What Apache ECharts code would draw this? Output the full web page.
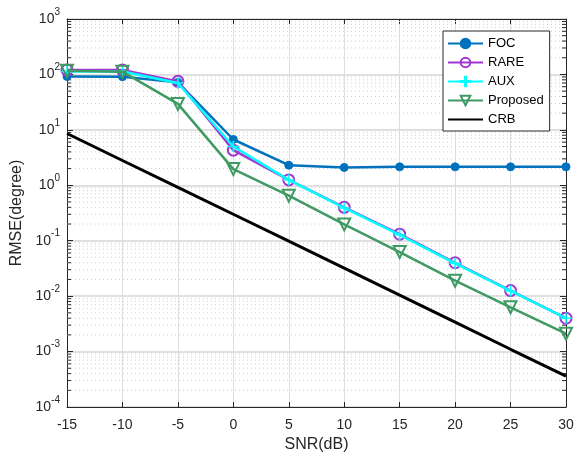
<!DOCTYPE html>
<html>
<head>
<meta charset="utf-8">
<script src="https://cdn.jsdelivr.net/npm/echarts@6/dist/echarts.min.js"></script>
<style>
html,body{margin:0;padding:0;background:#fff;}
#chart{width:579px;height:458px;}
</style>
</head>
<body>
<div id="chart"></div>
<script>
const snr = [-15, -10, -5, 0, 5, 10, 15, 20, 25, 30];
const foc = [92, 91, 72, 6.7, 2.3, 2.1, 2.15, 2.15, 2.15, 2.15];
const rare = [120, 120, 75, 4.3, 1.25, 0.40, 0.131, 0.040, 0.0126, 0.0040];
const aux = [113, 113, 70, 5.0, 1.25, 0.39, 0.128, 0.039, 0.0124, 0.0040];
const proposed = [116, 112, 29.4, 1.96, 0.65, 0.197, 0.0625, 0.019, 0.0063, 0.0021];
const crb = [8.6, 2.8, 0.92, 0.30, 0.098, 0.032, 0.0104, 0.0034, 0.0011, 0.00036];
const xTicks = [-15, -10, -5, 0, 5, 10, 15, 20, 25, 30];
const yTickExponents = [-4, -3, -2, -1, 0, 1, 2, 3];

const FONT = 'Liberation Sans, Arial, Helvetica, sans-serif';
const AXC = '#262626';

// minor (log) grid values: 2..9 x 10^k
const minorVals = [];
for (let k = -4; k < 3; k++) {
  for (let m = 2; m <= 9; m++) minorVals.push(m * Math.pow(10, k));
}

function pair(ys) { return snr.map((x, i) => [x, ys[i]]); }

const chart = echarts.init(document.getElementById('chart'), null, {renderer: 'canvas'});

const plusPath = 'path://M-1,-10 L1,-10 L1,-1 L10,-1 L10,1 L1,1 L1,10 L-1,10 L-1,1 L-10,1 L-10,-1 L-1,-1 Z';

const option = {
  animation: false,
  backgroundColor: '#ffffff',
  textStyle: {fontFamily: FONT},
  grid: {left: 67, right: 13, top: 15, bottom: 50, containLabel: false},
  legend: {
    left: 443, top: 31,
    orient: 'vertical',
    backgroundColor: '#ffffff',
    borderColor: AXC, borderWidth: 1,
    padding: [6, 6, 5, 4],
    itemGap: 6, itemWidth: 35, itemHeight: 12,
    textStyle: {fontSize: 13, color: '#000', fontFamily: FONT},
    data: ['FOC', 'RARE', 'AUX', 'Proposed', 'CRB']
  },
  xAxis: [{
    type: 'value', min: -15, max: 30, interval: 5,
    name: 'SNR(dB)', nameLocation: 'middle', nameGap: 30,
    nameTextStyle: {fontSize: 16, color: AXC, fontFamily: FONT},
    axisLine: {show: true, onZero: false, lineStyle: {color: AXC, width: 1}},
    axisTick: {show: true, inside: true, length: 5, lineStyle: {color: AXC}},
    axisLabel: {fontSize: 14, color: AXC, margin: 11, fontFamily: FONT,
      formatter: v => xTicks.includes(v) ? String(v) : ''},
    splitLine: {show: true, lineStyle: {color: '#dedede', width: 1}}
  }, {
    type: 'value', min: -15, max: 30, interval: 5, position: 'top',
    axisLine: {show: true, onZero: false, lineStyle: {color: AXC, width: 1}},
    axisTick: {show: true, inside: true, length: 5, lineStyle: {color: AXC}},
    axisLabel: {show: false}, splitLine: {show: false}
  }],
  yAxis: [{
    type: 'log', logBase: 10, min: 1e-4, max: 1e3, interval: 1,
    name: 'RMSE(degree)', nameLocation: 'middle', nameGap: 40,
    nameTextStyle: {fontSize: 16, color: AXC, fontFamily: FONT},
    axisLine: {show: true, onZero: false, lineStyle: {color: AXC, width: 1}},
    axisTick: {show: true, inside: true, length: 6, lineStyle: {color: AXC}},
    axisLabel: {
      color: AXC, margin: 7, fontFamily: FONT,
      formatter: v => {
        const e = Math.round(Math.log10(v));
        return yTickExponents.includes(e) ? '{b|10}{s|' + e + '}' : '';
      },
      rich: {
        b: {fontSize: 14, lineHeight: 14, color: AXC, fontFamily: FONT, verticalAlign: 'bottom', padding: [12, 0, 0, 0]},
        s: {fontSize: 10, lineHeight: 10, color: AXC, fontFamily: FONT, verticalAlign: 'bottom', padding: [0, 0, 9, 0]}
      }
    },
    splitLine: {show: true, lineStyle: {color: '#d6d6d6', width: 1.5}}
  }, {
    type: 'log', logBase: 10, min: 1e-4, max: 1e3, interval: 1, position: 'right',
    axisLine: {show: true, onZero: false, lineStyle: {color: AXC, width: 1}},
    axisTick: {show: true, inside: true, length: 6, lineStyle: {color: AXC}},
    axisLabel: {show: false}, splitLine: {show: false}
  }],
  series: [
    {
      name: 'minorGrid', type: 'custom', silent: true, z: 1,
      xAxisIndex: 0, yAxisIndex: 0,
      data: minorVals.map(v => [v]),
      encode: {y: 0},
      renderItem: function (params, api) {
        const v = api.value(0);
        const p1 = api.coord([-15, v]);
        const p2 = api.coord([30, v]);
        return {type: 'group', children: [
          {type: 'line', shape: {x1: p1[0], y1: p1[1], x2: p2[0], y2: p2[1]},
           style: {stroke: '#cfcfcf', lineWidth: 1, lineDash: [1, 3]}},
          {type: 'line', shape: {x1: p1[0], y1: p1[1], x2: p1[0] + 4, y2: p1[1]},
           style: {stroke: AXC, lineWidth: 1}},
          {type: 'line', shape: {x1: p2[0] - 4, y1: p2[1], x2: p2[0], y2: p2[1]},
           style: {stroke: AXC, lineWidth: 1}}
        ]};
      }
    },
    {
      name: 'FOC', type: 'line', data: pair(foc), z: 3,
      symbol: 'circle', symbolSize: 8,
      lineStyle: {color: '#0072BD', width: 2.5},
      itemStyle: {color: '#0072BD', borderColor: '#0072BD', borderWidth: 1}
    },
    {
      name: 'RARE', type: 'line', data: pair(rare), z: 4,
      symbol: 'circle', symbolSize: 11,
      lineStyle: {color: '#A136D2', width: 2.5},
      itemStyle: {color: 'rgba(255,255,255,0)', borderColor: '#A136D2', borderWidth: 2}
    },
    {
      name: 'AUX', type: 'line', data: pair(aux), z: 5,
      symbol: plusPath, symbolSize: 11,
      lineStyle: {color: '#00FFFF', width: 2.5},
      itemStyle: {color: '#00FFFF', borderColor: '#00FFFF', borderWidth: 0.5}
    },
    {
      name: 'Proposed', type: 'line', data: pair(proposed), z: 6,
      symbol: 'triangle', symbolRotate: 180, symbolSize: 12,
      lineStyle: {color: '#3F9A63', width: 2.5},
      itemStyle: {color: 'rgba(255,255,255,0)', borderColor: '#3F9A63', borderWidth: 2}
    },
    {
      name: 'CRB', type: 'line', data: pair(crb), z: 7,
      symbol: 'none', showSymbol: false,
      lineStyle: {color: '#000000', width: 3},
      itemStyle: {color: 'rgba(0,0,0,0)', borderColor: 'rgba(0,0,0,0)', borderWidth: 0}
    }
  ]
};
chart.setOption(option);
</script>
</body>
</html>
